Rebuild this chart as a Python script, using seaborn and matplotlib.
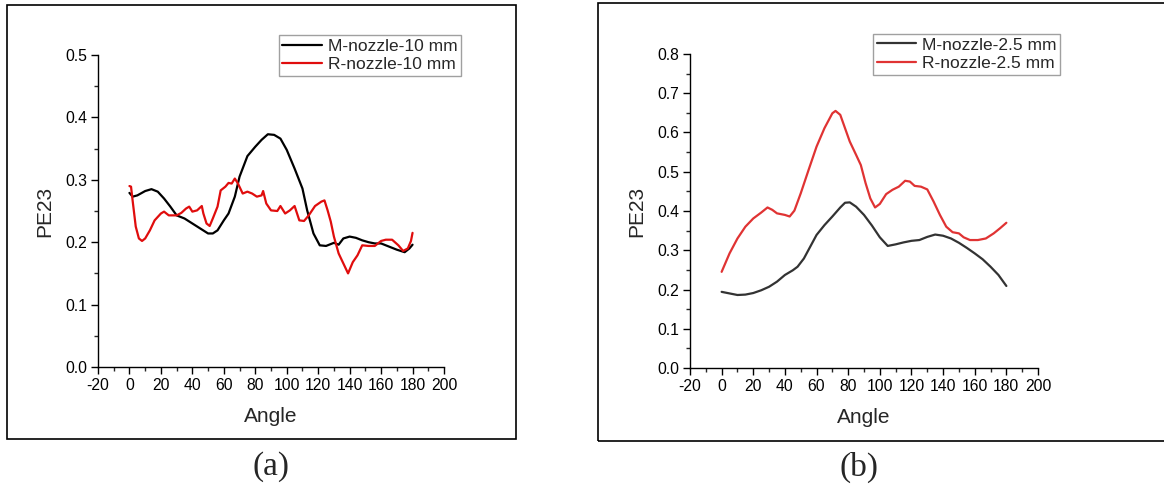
import matplotlib
matplotlib.use("Agg")
import matplotlib.pyplot as plt
from matplotlib.patches import Rectangle
from matplotlib.ticker import MultipleLocator
import seaborn as sns

# ─── Data ────────────────────────────────────────────────────────────────────

ang_m10 = [0, 2, 5, 10, 14, 18, 22, 26, 30, 35, 40, 45, 50, 53, 56, 60, 63, 67,
           70, 75, 80, 84, 88, 92, 96, 100, 105, 110, 113, 117, 121, 125, 130,
           133, 136, 140, 144, 148, 152, 156, 160, 165, 170, 175, 178, 180]
pe_m10 = [0.279, 0.273, 0.275, 0.282, 0.285, 0.281, 0.270, 0.257, 0.243, 0.238,
          0.230, 0.222, 0.214, 0.214, 0.219, 0.235, 0.246, 0.273, 0.305, 0.338,
          0.353, 0.364, 0.373, 0.372, 0.366, 0.348, 0.318, 0.286, 0.251, 0.214,
          0.195, 0.194, 0.199, 0.196, 0.206, 0.209, 0.207, 0.203, 0.200, 0.198,
          0.198, 0.193, 0.188, 0.184, 0.190, 0.196]

ang_r10 = [0, 1, 2, 4, 6, 8, 10, 13, 16, 20, 22, 25, 30, 33, 36, 38, 40, 43, 46,
           47, 49, 51, 53, 56, 58, 61, 63, 65, 67, 69, 72, 75, 78, 81, 84, 85, 87,
           90, 94, 96, 99, 102, 105, 108, 111, 114, 118, 122, 124, 126, 128, 130,
           133, 136, 139, 142, 145, 148, 152, 156, 160, 163, 167, 171, 174, 177,
           179, 180]
pe_r10 = [0.290, 0.289, 0.267, 0.225, 0.206, 0.202, 0.206, 0.219, 0.235, 0.246,
          0.249, 0.243, 0.243, 0.247, 0.254, 0.257, 0.249, 0.251, 0.258, 0.246,
          0.230, 0.226, 0.238, 0.257, 0.283, 0.289, 0.295, 0.294, 0.302, 0.294,
          0.278, 0.281, 0.278, 0.273, 0.275, 0.282, 0.262, 0.251, 0.250, 0.258,
          0.246, 0.251, 0.258, 0.235, 0.234, 0.243, 0.258, 0.265, 0.267, 0.251,
          0.233, 0.209, 0.182, 0.166, 0.150, 0.168, 0.179, 0.195, 0.194, 0.194,
          0.202, 0.204, 0.204, 0.195, 0.186, 0.190, 0.202, 0.215]

ang_m25 = [0, 5, 10, 15, 20, 25, 30, 35, 40, 45, 48, 52, 56, 60, 65, 70, 75, 78,
           81, 85, 90, 95, 100, 105, 110, 115, 120, 125, 130, 135, 140, 145, 150,
           155, 160, 165, 170, 175, 180]
pe_m25 = [0.194, 0.190, 0.186, 0.187, 0.191, 0.198, 0.207, 0.220, 0.237, 0.249,
          0.258, 0.279, 0.309, 0.339, 0.364, 0.386, 0.409, 0.421, 0.422, 0.411,
          0.390, 0.363, 0.333, 0.311, 0.315, 0.320, 0.324, 0.326, 0.334, 0.340,
          0.337, 0.330, 0.319, 0.306, 0.292, 0.277, 0.258, 0.237, 0.209]

ang_r25 = [0, 5, 10, 15, 20, 25, 29, 32, 35, 40, 43, 46, 50, 55, 60, 65, 70, 72,
           75, 78, 81, 85, 88, 91, 94, 97, 100, 104, 108, 112, 116, 119, 122, 126,
           130, 134, 138, 142, 146, 150, 153, 157, 162, 167, 172, 176, 180]
pe_r25 = [0.245, 0.292, 0.330, 0.360, 0.381, 0.396, 0.409, 0.403, 0.394, 0.390,
          0.386, 0.401, 0.445, 0.505, 0.564, 0.611, 0.649, 0.655, 0.645, 0.611,
          0.577, 0.543, 0.517, 0.471, 0.432, 0.409, 0.418, 0.443, 0.454, 0.462,
          0.477, 0.475, 0.464, 0.462, 0.455, 0.424, 0.390, 0.360, 0.346, 0.343,
          0.333, 0.326, 0.326, 0.330, 0.343, 0.356, 0.370]

# ─── Style ───────────────────────────────────────────────────────────────────

sns.set_style("ticks")
plt.rcParams["font.family"] = ["Liberation Sans", "DejaVu Sans"]
plt.rcParams["axes.unicode_minus"] = False

W, H = 1164, 492
fig = plt.figure(figsize=(W / 100, H / 100), dpi=100)


def px_axes(x0, y0, x1, y1):
    # pixel box (top-left origin) -> figure axes
    return fig.add_axes([x0 / W, 1 - y1 / H, (x1 - x0) / W, (y1 - y0) / H])


def style_axes(ax, ymax, ymajor):
    ax.set_xlim(-20, 200)
    ax.set_ylim(0, ymax)
    ax.xaxis.set_major_locator(MultipleLocator(20))
    ax.xaxis.set_minor_locator(MultipleLocator(10))
    ax.yaxis.set_major_locator(MultipleLocator(ymajor))
    ax.yaxis.set_minor_locator(MultipleLocator(ymajor / 2))
    ax.yaxis.set_major_formatter(plt.FormatStrFormatter("%.1f"))
    ax.tick_params(which="major", direction="out", length=5, width=1,
                   labelsize=11.3, colors="black", pad=3)
    ax.tick_params(which="minor", direction="out", length=3, width=1)
    for s in ["top", "right"]:
        ax.spines[s].set_visible(False)
    for s in ["left", "bottom"]:
        ax.spines[s].set_color("black")
        ax.spines[s].set_linewidth(1)
    ax.set_xlabel("Angle", fontsize=15, labelpad=10)
    ax.set_ylabel("PE23", fontsize=15, labelpad=8)


def add_legend(ax, anchor):
    leg = ax.legend(loc="upper left", bbox_to_anchor=anchor, fontsize=12.5,
                    frameon=True, fancybox=False, edgecolor="#888888",
                    handlelength=2.3, handletextpad=0.3, borderpad=0.2,
                    labelspacing=0.2, borderaxespad=0)
    leg.get_frame().set_linewidth(1)


# --- panel (a) ---------------------------------------------------------------
ax1 = px_axes(98, 55, 444, 367)
sns.lineplot(x=ang_m10, y=pe_m10, ax=ax1, color="black", linewidth=1.6,
             label="M-nozzle-10 mm", estimator=None)
sns.lineplot(x=ang_r10, y=pe_r10, ax=ax1, color="#e00d0d", linewidth=1.6,
             label="R-nozzle-10 mm", estimator=None)
style_axes(ax1, 0.5, 0.1)
add_legend(ax1, (0.523, 1.064))

# --- panel (b) ---------------------------------------------------------------
ax2 = px_axes(690, 54, 1038, 368)
sns.lineplot(x=ang_m25, y=pe_m25, ax=ax2, color="#333333", linewidth=1.6,
             label="M-nozzle-2.5 mm", estimator=None)
sns.lineplot(x=ang_r25, y=pe_r25, ax=ax2, color="#e03333", linewidth=1.6,
             label="R-nozzle-2.5 mm", estimator=None)
style_axes(ax2, 0.8, 0.1)
add_legend(ax2, (0.526, 1.064))

# panel frames
for (x0, y0, x1, y1) in [(7, 5, 516, 439), (598, 3, 1175, 441)]:
    fig.patches.append(Rectangle((x0 / W, 1 - y1 / H), (x1 - x0) / W, (y1 - y0) / H,
                                 transform=fig.transFigure, fill=False,
                                 edgecolor="black", linewidth=1.2))

# captions
for cx, txt in [(271, "(a)"), (859, "(b)")]:
    fig.text(cx / W, 1 - 467 / H, txt, ha="center", va="center", fontsize=24,
             family=["Liberation Serif", "DejaVu Serif"])

fig.savefig("out.png", dpi=100)
